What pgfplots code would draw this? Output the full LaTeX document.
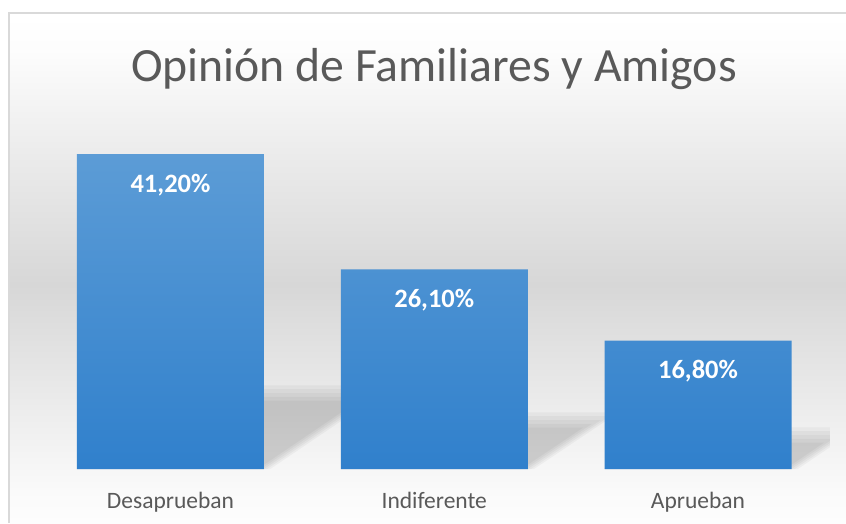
\documentclass[border=0pt]{standalone}
\usepackage{pgfplots}
\pgfplotsset{compat=1.18}
\usepackage{fontspec}
\setmainfont{Carlito}
\definecolor{txt}{HTML}{595959}
\definecolor{barTop}{RGB}{92,156,214}
\definecolor{barBot}{RGB}{48,128,204}
\definecolor{bordc}{HTML}{D9D9D9}
\definecolor{bgA}{HTML}{FDFDFD}
\definecolor{bgB}{HTML}{ECECEC}
\definecolor{bgC}{HTML}{D7D7D7}
\definecolor{bgD}{HTML}{F0F0F0}
\definecolor{bgE}{HTML}{FAFAFA}
\definecolor{bgF}{HTML}{FDFDFD}
\pgfdeclareverticalshading{bgshade}{100bp}{color(0bp)=(bgF); color(25bp)=(bgF); color(28.2bp)=(bgE); color(34.1bp)=(bgD); color(48.4bp)=(bgC); color(61.6bp)=(bgB); color(71.5bp)=(bgA); color(75bp)=(white); color(100bp)=(white)}
\begin{document}
\begin{tikzpicture}[x=1pt,y=1pt]
\useasboundingbox (0,0) rectangle (846,523);
\fill[white] (0,0) rectangle (846,523);
\shade[shading=bgshade] (10,0) rectangle (846,509);
\draw[bordc, line width=2pt] (9,0) -- (9,509.5) -- (846,509.5);
\node[anchor=base, text=txt, font=\fontsize{47.7}{56}\selectfont] at (434,441) {Opinión de Familiares y Amigos};
\begin{axis}[
  at={(38.6pt,54pt)}, anchor=south west,
  scale only axis, width=791.3pt, height=344pt,
  xmin=-0.5, xmax=2.5, ymin=0, ymax=45,
  axis line style={draw=none},
  ytick=\empty,
  xtick={0,1,2},
  xticklabels={Desaprueban,Indiferente,Aprueban},
  major tick length=0pt,
  tick style={draw=none},
  xticklabel style={anchor=base, yshift=-39pt, text=txt, font=\fontsize{23.5}{28}\selectfont},
]
% soft shadows (decoration), several translucent layers
\pgfplotsset{shd/.style={draw=none, fill=black, fill opacity=0.036, forget plot}}
\addplot[shd] coordinates {(-0.3545,0) (0.3785,0) (0.8463,10.94) (0.0705,10.94)} -- cycle;
\addplot[shd] coordinates {(-0.3545,0) (0.3665,0) (0.8129,10.44) (0.0705,10.44)} -- cycle;
\addplot[shd] coordinates {(-0.3545,0) (0.3545,0) (0.7795,9.94) (0.0705,9.94)} -- cycle;
\addplot[shd] coordinates {(-0.3545,0) (0.3425,0) (0.7461,9.44) (0.0705,9.44)} -- cycle;
\addplot[shd] coordinates {(-0.3545,0) (0.3305,0) (0.7127,8.94) (0.0705,8.94)} -- cycle;
\addplot[shd] coordinates {(0.6455,0) (1.3785,0) (1.6987,7.41) (0.9225,7.41)} -- cycle;
\addplot[shd] coordinates {(0.6455,0) (1.3665,0) (1.6651,6.91) (0.9225,6.91)} -- cycle;
\addplot[shd] coordinates {(0.6455,0) (1.3545,0) (1.6315,6.41) (0.9225,6.41)} -- cycle;
\addplot[shd] coordinates {(0.6455,0) (1.3425,0) (1.5979,5.91) (0.9225,5.91)} -- cycle;
\addplot[shd] coordinates {(0.6455,0) (1.3305,0) (1.5643,5.41) (0.9225,5.41)} -- cycle;
\addplot[shd] coordinates {(1.6455,0) (2.3785,0) (2.6112,5.45) (1.8355,5.45)} -- cycle;
\addplot[shd] coordinates {(1.6455,0) (2.3665,0) (2.5779,4.95) (1.8355,4.95)} -- cycle;
\addplot[shd] coordinates {(1.6455,0) (2.3545,0) (2.5445,4.45) (1.8355,4.45)} -- cycle;
\addplot[shd] coordinates {(1.6455,0) (2.3425,0) (2.5112,3.95) (1.8355,3.95)} -- cycle;
\addplot[shd] coordinates {(1.6455,0) (2.3305,0) (2.4778,3.45) (1.8355,3.45)} -- cycle;
% bars
\addplot[ybar, bar width=187pt, draw=none, top color=barTop, bottom color=barBot,
  point meta=explicit symbolic,
  nodes near coords={\pgfplotspointmeta\%},
  every node near coord/.append style={anchor=base, yshift=-38pt, text=white, font=\bfseries\fontsize{26.5}{30}\selectfont}]
  table[meta=label] {
x y label
0 41.2 41,20
1 26.1 26,10
2 16.8 16,80
};
\end{axis}
\end{tikzpicture}
\end{document}
